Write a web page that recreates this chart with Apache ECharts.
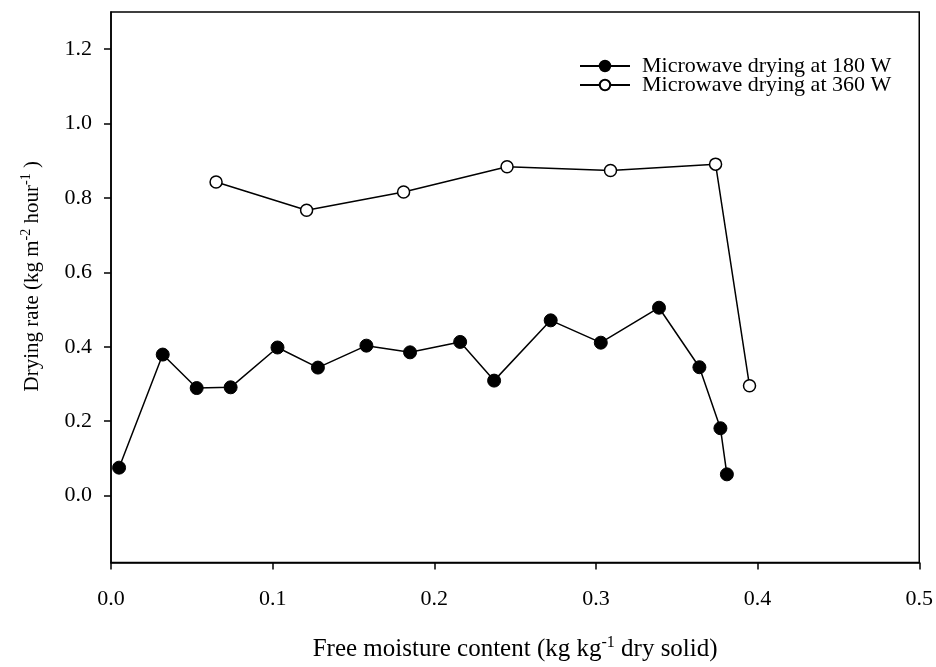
<!DOCTYPE html>
<html><head><meta charset="utf-8">
<script src="https://cdn.jsdelivr.net/npm/echarts@6/dist/echarts.min.js"></script>
<style>html,body{margin:0;padding:0;background:#fff}#c{width:936px;height:667px}</style>
</head><body><div id="c"></div>
<script>
var x180 = [0.005, 0.032, 0.053, 0.074, 0.103, 0.128, 0.158, 0.185, 0.216, 0.237, 0.272, 0.303, 0.339, 0.364, 0.377, 0.381];
var y180 = [0.075, 0.379, 0.289, 0.291, 0.398, 0.344, 0.403, 0.385, 0.413, 0.309, 0.471, 0.411, 0.505, 0.345, 0.181, 0.057];
var x360 = [0.065, 0.121, 0.181, 0.245, 0.309, 0.374, 0.395];
var y360 = [0.843, 0.767, 0.816, 0.884, 0.874, 0.891, 0.295];
var xTicks = [0.0, 0.1, 0.2, 0.3, 0.4, 0.5];
var yTicks = [0.0, 0.2, 0.4, 0.6, 0.8, 1.0, 1.2];
var seriesNames = ['Microwave drying at 180 W', 'Microwave drying at 360 W'];

function pairs(xs, ys){ return xs.map(function(v,i){ return [v, ys[i]]; }); }
var font = 'Liberation Serif';
var chart = echarts.init(document.getElementById('c'));
chart.setOption({
  animation: false,
  textStyle: {fontFamily: font, color: '#000'},
  grid: {left: 111, top: 12, right: 16, bottom: 100, show: true, borderColor: '#000', borderWidth: 1.5, backgroundColor: 'transparent'},
  legend: {
    orient: 'vertical', left: 574, top: 50, itemWidth: 50, itemHeight: 13, itemGap: -3,
    textStyle: {fontFamily: font, fontSize: 22, lineHeight: 18, color: '#000', padding: [0,0,0,7]},
    data: seriesNames
  },
  xAxis: {
    type: 'value', min: 0, max: 0.5,
    axisLine: {show: true, onZero: false, lineStyle: {color: '#000', width: 1.5}},
    axisTick: {show: true, length: 7, inside: false, lineStyle: {color: '#000', width: 1.5}, customValues: xTicks},
    axisLabel: {margin: 26, fontSize: 22, color: '#000', fontFamily: font, customValues: xTicks, formatter: function(v){ return v.toFixed(1); }},
    splitLine: {show: false},
    name: '{n|Free moisture content (kg kg}{s|-1}{n| dry solid)}',
    nameLocation: 'middle', nameGap: 72,
    nameTextStyle: {rich: {n: {fontSize: 25, fontFamily: font, color: '#000'}, s: {fontSize: 16, fontFamily: font, color: '#000', padding: [0,0,14,0]}}}
  },
  yAxis: {
    type: 'value', min: -0.18, max: 1.3,
    axisLine: {show: true, onZero: false, lineStyle: {color: '#000', width: 1.5}},
    axisTick: {show: true, length: 7, inside: false, lineStyle: {color: '#000', width: 1.5}, customValues: yTicks},
    axisLabel: {margin: 19, fontSize: 22, color: '#000', fontFamily: font, customValues: yTicks, formatter: function(v){ return v.toFixed(1); }},
    splitLine: {show: false},
    name: '{n|Drying rate (kg m}{s|-2}{n| hour}{s|-1}{n| )}',
    nameLocation: 'middle', nameGap: 66,
    nameTextStyle: {padding: [0,0,0,22], rich: {n: {fontSize: 21, fontFamily: font, color: '#000'}, s: {fontSize: 14, fontFamily: font, color: '#000', padding: [0,0,12,0]}}}
  },
  series: [
    {name: seriesNames[0], type: 'line', data: pairs(x180, y180), symbol: 'circle', symbolSize: 13,
     itemStyle: {color: '#000', borderColor: '#000', borderWidth: 1}, lineStyle: {color: '#000', width: 1.5}, z: 3},
    {name: seriesNames[1], type: 'line', data: pairs(x360, y360), symbol: 'circle', symbolSize: 12,
     itemStyle: {color: '#fff', borderColor: '#000', borderWidth: 1.5}, lineStyle: {color: '#000', width: 1.5}, z: 3}
  ]
});
</script></body></html>
